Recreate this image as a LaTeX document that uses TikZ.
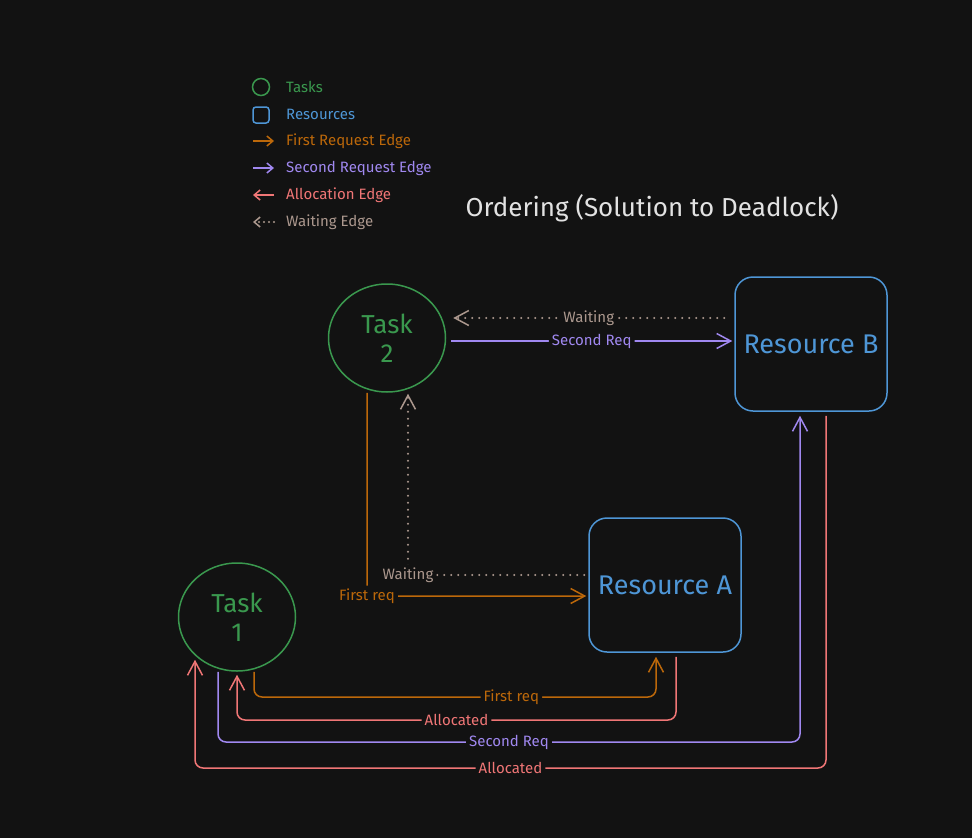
\documentclass[tikz,border=0pt]{standalone}
\usepackage{fontspec}
\setmainfont{Fira Sans}
\usepackage{tikz}
\usetikzlibrary{arrows.meta,positioning,shapes.geometric,calc}
\definecolor{bgc}{RGB}{18,18,18}
\definecolor{taskgreen}{RGB}{58,152,78}
\definecolor{resblue}{RGB}{78,150,214}
\definecolor{firstorange}{RGB}{188,104,10}
\definecolor{secpurple}{RGB}{160,136,240}
\definecolor{allocred}{RGB}{240,118,118}
\definecolor{waitgray}{RGB}{172,152,142}
\definecolor{titlewhite}{RGB}{226,226,226}
\tikzset{
	task/.style={
		ellipse, minimum width=117pt, minimum height=108pt,
		line width=1.5pt, draw=taskgreen, text=taskgreen, align=center,
		font=\fontsize{26}{29}\selectfont
	},
	%
	resource/.style={
		rectangle, minimum width=152pt, minimum height=134pt, rounded corners=18pt,
		line width=1.5pt, draw=resblue, text=resblue,
		font=\fontsize{27}{30}\selectfont
	},
	%
	lbl/.style={
		fill=bgc, inner sep=3pt, font=\fontsize{15}{17}\selectfont
	},
	%
	legtxt/.style={
		anchor=west, inner sep=0pt, font=\fontsize{15}{17}\selectfont
	},
	%
	edge/.style={
		line width=1.5pt, rounded corners=8pt,
		-{Straight Barb[length=14pt,width=15pt,line width=1.5pt]}
	},
	firstreq/.style={edge, color=firstorange},
	secreq/.style={edge, color=secpurple},
	alloc/.style={edge, color=allocred},
	waitedge/.style={edge, color=waitgray, line width=2.4pt, line cap=round, dash pattern=on 0pt off 7pt},
	legarrow/.style={-{Straight Barb[length=6pt,width=10pt,line width=1.5pt]}}
}

\begin{document}
\begin{tikzpicture}[x=1pt,y=-1pt]
\path[use as bounding box, fill=bgc] (0,0) rectangle (972,838);

%legend
\node (lgT) [circle, draw=taskgreen, line width=1.5pt, minimum size=17pt, inner sep=0pt] at (261,87) {};
\node (lgR) [rectangle, draw=resblue, line width=1.5pt, minimum size=16pt, inner sep=0pt, rounded corners=3pt, below=10pt of lgT] {};
\coordinate (lgF) at (253,141);
\coordinate (lgS) at (253,168);
\coordinate (lgA) at (253,195);
\coordinate (lgW) at (253,222);
\draw[firstreq, legarrow] (lgF) -- ++(21,0);
\draw[secreq, legarrow] (lgS) -- ++(21,0);
\draw[alloc, legarrow] ($(lgA)+(21,0)$) -- (lgA);
\draw[waitedge, dash pattern=on 0pt off 5pt, legarrow] ($(lgW)+(21,0)$) -- (lgW);
\node (lgTtxt) [legtxt, text=taskgreen] at (286,87) {Tasks};
\node (lgRtxt) [legtxt, text=resblue] at (286,114) {Resources};
\node (lgFtxt) [legtxt, text=firstorange] at (286,141) {First Request Edge};
\node (lgStxt) [legtxt, text=secpurple] at (286,168) {Second Request Edge};
\node (lgAtxt) [legtxt, text=allocred] at (286,195) {Allocation Edge};
\node (lgWtxt) [legtxt, text=waitgray] at (286,222) {Waiting Edge};

%title
\node (title) [text=titlewhite, font=\fontsize{26}{30}\selectfont] at (652,208) {Ordering (Solution to Deadlock)};

%tasks and resources
\node (T2) [task] at (387,338) {Task\\2};
\node (T1) [task] at (237,617) {Task\\1};
\node (RB) [resource] at (811,344) {Resource B};
\node (RA) [resource] at (665,585) {Resource A};

%bend levels
\coordinate (yA) at (0,697);
\coordinate (yB) at (0,720);
\coordinate (yC) at (0,742);
\coordinate (yD) at (0,768);
\coordinate (RAin) at ([shift={(-9pt,-4pt)}]RA.south);
\coordinate (RAout) at ([shift={(11pt,-4pt)}]RA.south);
\coordinate (RBin) at ([shift={(-11pt,-4pt)}]RB.south);
\coordinate (RBout) at ([shift={(15pt,-4pt)}]RB.south);
\coordinate (T1end) at ([shift={(-42pt,12pt)}]T1.south);

%arrows
\draw[waitedge] ([shift={(-10pt,26pt)}]RB.west) -- node[lbl, text=waitgray] {Waiting} ([shift={(7pt,20pt)}]T2.east);
\draw[secreq] ([shift={(5pt,-3pt)}]T2.east) -- node[lbl] {Second Req} ([shift={(-2pt,3pt)}]RB.west);

\draw[firstreq] ([xshift=-20pt]T2.south) |- node[lbl, pos=0.5] {First req} ([shift={(-2pt,-11pt)}]RA.west);
\draw[waitedge] ([shift={(-4pt,10pt)}]RA.west) -| node[lbl, pos=0.5, text=waitgray] {Waiting} ([shift={(21pt,-1pt)}]T2.south);

\draw[firstreq] ([xshift=17pt]T1.south) |- node[lbl, pos=0.82] {First req} (RAin |- yA) -- (RAin);
\draw[alloc] (RAout) |- node[lbl, pos=0.75] {Allocated} (T1.south |- yB) -- ([yshift=-3pt]T1.south);
\draw[secreq] ([xshift=-19pt]T1.south) |- node[lbl, pos=0.75] {Second Req} (RBin |- yC) -- (RBin);
\draw[alloc] (RBout) |- node[lbl, pos=0.75] {Allocated} (T1end |- yD) -- (T1end);

\end{tikzpicture}
\end{document}
